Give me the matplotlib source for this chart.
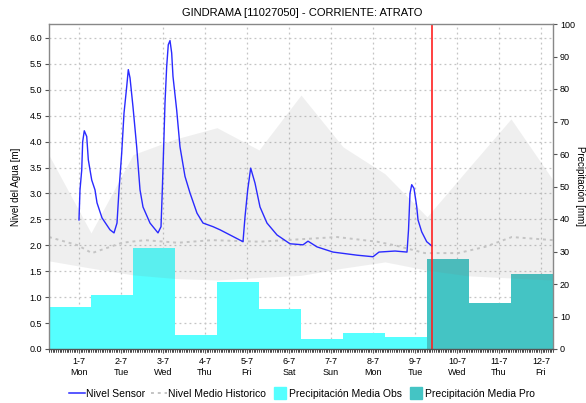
import matplotlib
matplotlib.use("Agg")
import matplotlib.pyplot as plt
from matplotlib.lines import Line2D
import numpy as np

plt.rcParams['font.family'] = ['Liberation Sans', 'DejaVu Sans']

title = "GINDRAMA [11027050] - CORRIENTE: ATRATO"
date_labels = ["1-7", "2-7", "3-7", "4-7", "5-7", "6-7", "7-7", "8-7", "9-7", "10-7", "11-7", "12-7"]
day_labels = ["Mon", "Tue", "Wed", "Thu", "Fri", "Sat", "Sun", "Mon", "Tue", "Wed", "Thu", "Fri"]

# precipitation per day (mm), observed days then forecast days
precip_obs = [13.0, 16.6, 31.2, 4.3, 20.7, 12.2, 3.1, 5.0, 3.8]
precip_pro = [27.6, 14.2, 23.1]

# sensor level (time in days from chart start, level in m)
sensor_t = [0.714, 0.738, 0.779, 0.802, 0.840, 0.898, 0.936, 1.017, 1.095, 1.143, 1.262, 1.452,
            1.548, 1.619, 1.667, 1.731, 1.786, 1.850, 1.888, 1.929, 2.000, 2.088, 2.167, 2.238,
            2.405, 2.595, 2.667, 2.698, 2.721, 2.762, 2.802, 2.840, 2.881, 2.921, 2.952, 3.040,
            3.119, 3.238, 3.357, 3.524, 3.667, 3.905, 4.071, 4.310, 4.548, 4.619, 4.667, 4.731,
            4.802, 4.905, 5.024, 5.190, 5.429, 5.738, 6.048, 6.167, 6.381, 6.762, 7.333, 7.714,
            7.857, 8.238, 8.524, 8.560, 8.595, 8.636, 8.690, 8.755, 8.786, 8.874, 8.993, 9.112]
sensor_v = [2.49, 3.07, 3.45, 4.00, 4.21, 4.10, 3.65, 3.26, 3.07, 2.82, 2.53, 2.30,
            2.24, 2.43, 3.07, 3.78, 4.55, 5.06, 5.39, 5.23, 4.67, 3.90, 3.07, 2.74,
            2.43, 2.24, 2.36, 3.07, 3.65, 4.75, 5.45, 5.87, 5.95, 5.71, 5.26, 4.61,
            3.90, 3.33, 3.01, 2.62, 2.43, 2.36, 2.30, 2.20, 2.10, 2.07, 2.55, 3.07,
            3.49, 3.20, 2.74, 2.43, 2.20, 2.03, 2.01, 2.08, 1.97, 1.87, 1.81, 1.78,
            1.87, 1.89, 1.87, 2.30, 3.00, 3.17, 3.10, 2.75, 2.49, 2.26, 2.07, 1.99]

# historical median level
median_t = [0.0, 0.69, 1.02, 1.74, 2.29, 3.07, 3.88, 5.02, 6.86, 7.81, 8.24, 8.95, 9.74, 10.38, 11.02, 12.0]
median_v = [2.16, 2.00, 1.85, 2.05, 2.10, 2.05, 2.10, 2.07, 2.16, 2.07, 2.00, 1.85, 1.85, 1.97, 2.16, 2.10]

# historical envelope (daily)
band_t = [0, 1, 2, 3, 4, 5, 6, 7, 8, 9, 10, 11, 12]
band_hi = [3.74, 2.24, 3.75, 4.05, 4.27, 3.84, 4.90, 3.90, 3.38, 2.55, 3.50, 4.44, 3.26]
band_lo = [1.70, 1.56, 1.43, 1.36, 1.33, 1.38, 1.42, 1.56, 1.68, 1.52, 1.41, 1.37, 1.33]

now_t = 9.12
tick_offset = 0.714

fig = plt.figure(figsize=(5.86, 4.03), dpi=100)
pos = [49/586, 1-349/403, (553-49)/586, (349-24)/403]

ax0 = fig.add_axes(pos)
ax0.set_zorder(0)
ax = fig.add_axes(pos, sharex=ax0, sharey=ax0)
ax.set_zorder(2)
ax.patch.set_visible(False)
ax2 = ax.twinx()
ax2.set_zorder(1)
ax2.patch.set_visible(False)

ylim_left = (0, 6.27)
ax0.set_xlim(0, 12)
ax0.set_ylim(*ylim_left)
ax2.set_ylim(0, 100)

# grid on bottom axes
yt = np.arange(0, 6.01, 0.5)
xt = np.arange(len(date_labels)) + tick_offset
ax0.set_yticks(yt)
ax0.set_xticks(xt)
ax0.grid(True, color='#c4c4c4', linestyle=(0, (1.5, 2.5)), linewidth=0.9)
ax0.tick_params(labelleft=False, labelbottom=False, left=False, bottom=False)
for s in ax0.spines.values():
    s.set_visible(False)

# bars on right axis
n_obs = len(precip_obs)
ax2.bar(np.arange(n_obs), precip_obs, width=1.0, align='edge', color='#55FFFF', linewidth=0)
ax2.bar(np.arange(n_obs, n_obs + len(precip_pro)), precip_pro, width=1.0, align='edge',
        color='#44C4C4', linewidth=0)
ax2.set_yticks(np.arange(0, 101, 10))
ax2.tick_params(axis='y', labelsize=6.5, length=3, width=0.8, color='#555555', pad=2)
ax2.set_ylabel("Precipitación [mm]", rotation=-90, fontsize=7, labelpad=7)
for s in ax2.spines.values():
    s.set_visible(False)

# historical band, median, sensor
ax.fill_between(band_t, band_lo, band_hi, color='#808080', alpha=0.12, linewidth=0)
ax.plot(median_t, median_v, color='#c4c4c4', linestyle=(0, (1.5, 2.0)), linewidth=1.4)
ax.plot(sensor_t, sensor_v, color='#2a2aff', linewidth=1.0)
ax.axvline(now_t, color='#ff2020', linewidth=1.2)

ax.set_yticks(yt)
ax.set_yticklabels([f"{v:.1f}" for v in yt])
ax.set_xticks(xt)
ax.set_xticklabels([f"{d}\n{w}" for d, w in zip(date_labels, day_labels)])
ax.set_xticks(np.arange(0, 12.001, 1/24), minor=True)
ax.tick_params(axis='x', which='major', labelsize=6.5, length=3, width=0.8, color='#555555', pad=3)
ax.tick_params(axis='x', which='minor', length=2, width=0.6, color='#555555')
ax.tick_params(axis='y', labelsize=6.5, length=3, width=0.8, color='#555555', pad=2)
ax.set_ylabel("Nivel del Agua [m]", fontsize=7, labelpad=6)
for s in ax.spines.values():
    s.set_color('#888888')
    s.set_linewidth(1.0)
ax.spines['bottom'].set_color('#555555')

fig.text(0.515, 0.967, title, ha='center', va='center', fontsize=8)

handles = [
    Line2D([], [], color='#2a2aff', linewidth=1.1),
    Line2D([], [], color='#c4c4c4', linestyle=(0, (1.5, 2.0)), linewidth=1.4),
    Line2D([], [], color='#55FFFF', marker='s', linestyle='none', markersize=9),
    Line2D([], [], color='#44C4C4', marker='s', linestyle='none', markersize=9),
]
labels = ["Nivel Sensor", "Nivel Medio Historico", "Precipitación Media Obs", "Precipitación Media Pro"]
fig.legend(handles, labels, loc='center', bbox_to_anchor=(0.515, 0.022), ncol=4, frameon=False,
           fontsize=7.5, handlelength=1.5, handletextpad=0.1, columnspacing=0.6, borderpad=0)

fig.savefig("out.png", dpi=100)
